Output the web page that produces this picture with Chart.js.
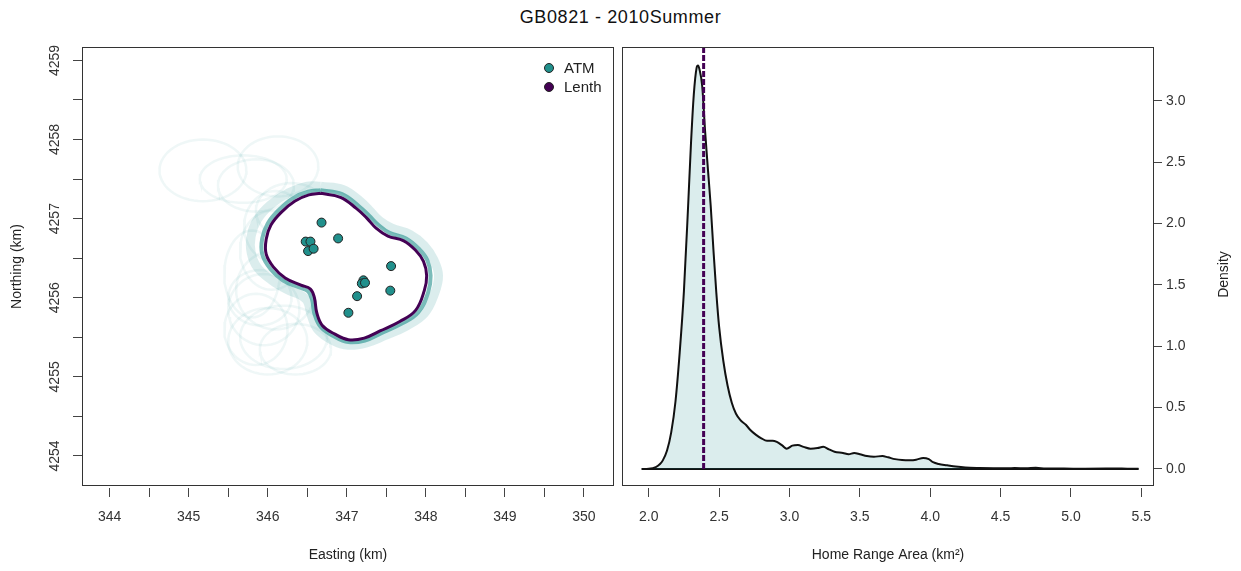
<!DOCTYPE html>
<html>
<head>
<meta charset="utf-8">
<script src="https://cdn.jsdelivr.net/npm/chart.js@4.4.1/dist/chart.umd.min.js"></script>
<style>
  html, body { margin: 0; padding: 0; background: #fff; }
  #wrap { position: relative; width: 1241px; height: 571px; overflow: hidden; }
  #title { position: absolute; left: 0; top: 7px; width: 1241px; text-align: center;
           font: 18px "Liberation Sans", Arial, sans-serif; letter-spacing: 0.6px; color: #111; }
  #c1 { position: absolute; left: 0; top: 0; }
  #c2 { position: absolute; left: 620px; top: 0; }
</style>
</head>
<body>
<div id="wrap">
  <div id="title">GB0821 - 2010Summer</div>
  <canvas id="c1" width="620" height="571"></canvas>
  <canvas id="c2" width="621" height="571"></canvas>
</div>
<script>
// ---------- data: left panel (Easting / Northing, km) ----------
const atmEasting  = [346.68, 346.89, 346.48, 346.54, 346.51, 346.58, 347.56, 347.21, 347.19, 347.23, 347.55, 347.13, 347.02];
const atmNorthing = [4256.95, 4256.75, 4256.71, 4256.71, 4256.59, 4256.62, 4256.40, 4256.22, 4256.18, 4256.19, 4256.09, 4256.02, 4255.81];

// Lenth home-range contour (E, N)
const lenthContour = [
  [346.67,4257.32],[346.92,4257.27],[347.12,4257.13],[347.25,4257.01],[347.37,4256.88],[347.52,4256.78],
  [347.72,4256.72],[347.87,4256.60],[347.97,4256.46],[348.01,4256.28],[347.98,4256.09],[347.87,4255.84],
  [347.67,4255.70],[347.42,4255.58],[347.22,4255.49],[347.02,4255.47],[346.85,4255.54],[346.69,4255.65],
  [346.62,4255.81],[346.59,4256.00],[346.54,4256.11],[346.42,4256.16],[346.22,4256.25],[346.07,4256.39],
  [345.98,4256.55],[345.98,4256.74],[346.04,4256.92],[346.17,4257.08],[346.34,4257.22],[346.52,4257.30],
  [346.67,4257.32]
];
// ATM bootstrap contours: dense band just outside the Lenth contour
const atmContourInner = [
  [346.67,4257.36],[346.94,4257.31],[347.15,4257.16],[347.28,4257.04],[347.40,4256.92],[347.54,4256.82],
  [347.75,4256.75],[347.91,4256.62],[348.02,4256.47],[348.06,4256.28],[348.03,4256.07],[347.90,4255.81],
  [347.69,4255.67],[347.43,4255.55],[347.23,4255.46],[347.02,4255.44],[346.84,4255.51],[346.67,4255.63],
  [346.59,4255.80],[346.56,4255.98],[346.51,4256.08],[346.40,4256.13],[346.19,4256.22],[346.03,4256.37],
  [345.93,4256.55],[345.93,4256.75],[346.00,4256.94],[346.14,4257.11],[346.32,4257.26],[346.51,4257.34],
  [346.67,4257.36]
];
const atmContourOuter = [
  [346.67,4257.41],[346.95,4257.37],[347.17,4257.22],[347.30,4257.09],[347.42,4256.97],[347.57,4256.88],
  [347.80,4256.80],[347.98,4256.66],[348.10,4256.48],[348.16,4256.28],[348.11,4256.05],[347.98,4255.80],
  [347.75,4255.64],[347.48,4255.52],[347.25,4255.43],[347.02,4255.40],[346.82,4255.46],[346.63,4255.60],
  [346.55,4255.78],[346.50,4255.96],[346.42,4256.03],[346.25,4256.10],[346.05,4256.22],[345.87,4256.38],
  [345.79,4256.57],[345.79,4256.78],[345.87,4256.99],[346.04,4257.18],[346.27,4257.33],[346.50,4257.41],
  [346.67,4257.41]
];
// Faint outlying ATM contour lobes: [centerE, centerN, radiusE, radiusN]
const atmLobes = [
  [345.18,4257.61,0.55,0.39],
  [346.13,4257.66,0.51,0.38],
  [345.69,4257.50,0.55,0.30],
  [345.85,4257.42,0.48,0.33],
  [346.10,4256.90,0.40,0.45],
  [346.30,4257.10,0.45,0.35],
  [346.00,4255.45,0.50,0.42],
  [345.85,4255.60,0.40,0.45],
  [346.20,4255.50,0.55,0.40],
  [345.95,4255.85,0.45,0.45],
  [346.10,4256.10,0.50,0.50],
  [345.80,4256.30,0.35,0.55],
  [346.05,4256.60,0.40,0.50],
  [346.35,4255.35,0.45,0.32],
  [345.90,4256.00,0.40,0.35]
];
const eastTicks  = [344,344.5,345,345.5,346,346.5,347,347.5,348,348.5,349,349.5,350];
const northTicks = [4254,4254.5,4255,4255.5,4256,4256.5,4257,4257.5,4258,4258.5,4259];

// ---------- data: right panel (home range area density) ----------
const areaX = [1.95,2.00,2.05,2.08,2.10,2.13,2.16,2.19,2.22,2.25,2.28,2.30,2.32,2.34,2.35,2.36,2.38,2.40,2.42,2.44,
  2.46,2.48,2.50,2.53,2.56,2.59,2.62,2.65,2.69,2.72,2.76,2.80,2.84,2.88,2.91,2.95,2.98,3.02,3.06,3.10,
  3.15,3.20,3.24,3.28,3.32,3.38,3.42,3.46,3.50,3.55,3.60,3.66,3.70,3.75,3.80,3.86,3.90,3.95,3.99,4.02,
  4.06,4.12,4.18,4.25,4.35,4.45,4.55,4.60,4.68,4.75,4.82,4.95,5.10,5.25,5.30,5.40,5.48];
const densityY = [0.000,0.002,0.015,0.040,0.070,0.150,0.300,0.550,0.950,1.450,2.150,2.650,3.050,3.270,3.290,3.260,3.120,2.760,2.450,2.150,
  1.780,1.440,1.160,0.880,0.680,0.540,0.450,0.400,0.360,0.320,0.280,0.250,0.230,0.230,0.220,0.190,0.165,0.190,0.195,0.180,
  0.165,0.170,0.180,0.160,0.140,0.130,0.120,0.130,0.120,0.105,0.100,0.105,0.095,0.080,0.072,0.070,0.075,0.090,0.080,0.055,
  0.040,0.030,0.020,0.012,0.008,0.006,0.005,0.008,0.005,0.009,0.004,0.003,0.002,0.003,0.004,0.002,0.001];
const lenthArea = 2.39;
const areaTicks = [2.0,2.5,3.0,3.5,4.0,4.5,5.0,5.5];
const densTicks = [0.0,0.5,1.0,1.5,2.0,2.5,3.0];

// ---------- colours ----------
const TEAL = '#21908C', PURPLE = '#440154';
const FONT = '"Liberation Sans", Arial, sans-serif';
const TICK_SIZE = 14, TITLE_SIZE = 14;

function pairs(arr) { return arr.map(p => ({x: p[0], y: p[1]})); }
function lobe(c) {
  const pts = [];
  for (let i = 0; i <= 60; i++) {
    const t = 2 * Math.PI * i / 60;
    pts.push({x: c[0] + c[2] * Math.cos(t), y: c[1] + c[3] * Math.sin(t)});
  }
  return pts;
}

const boxPlugin = {
  id: 'box',
  afterDraw(chart) {
    const {ctx, chartArea: a} = chart;
    ctx.save();
    ctx.strokeStyle = '#333';
    ctx.lineWidth = 1;
    ctx.strokeRect(Math.round(a.left) + 0.5, Math.round(a.top) + 0.5,
                   Math.round(a.right - a.left) - 1, Math.round(a.bottom - a.top) - 1);
    ctx.restore();
  }
};

const legendItems = [{label: 'ATM', color: TEAL}, {label: 'Lenth', color: PURPLE}];
const legendPlugin = {
  id: 'cornerLegend',
  afterDraw(chart) {
    const {ctx} = chart;
    ctx.save();
    legendItems.forEach((it, i) => {
      const y = 68 + i * 19;
      ctx.beginPath();
      ctx.arc(549, y, 4.5, 0, 2 * Math.PI);
      ctx.fillStyle = it.color; ctx.fill();
      ctx.lineWidth = 1; ctx.strokeStyle = '#222'; ctx.stroke();
      ctx.fillStyle = '#222';
      ctx.font = '15px ' + FONT;
      ctx.textBaseline = 'middle';
      ctx.textAlign = 'left';
      ctx.fillText(it.label, 564, y + 1);
    });
    ctx.restore();
  }
};

// ---------- left chart ----------
const leftDatasets = [];
leftDatasets.push({
  label: 'ATM', data: atmEasting.map((e, i) => ({x: e, y: atmNorthing[i]})),
  backgroundColor: TEAL, borderColor: '#222', borderWidth: 1, pointRadius: 4.5, showLine: false, order: 1
});
leftDatasets.push({
  label: 'Lenth', data: pairs(lenthContour), showLine: true, borderColor: PURPLE, borderWidth: 3,
  pointRadius: 0, tension: 0.4, fill: false, order: 2
});
leftDatasets.push({
  label: 'atmInner', data: pairs(atmContourInner), showLine: true, borderColor: 'rgba(33,144,140,0.6)', borderWidth: 4,
  pointRadius: 0, tension: 0.4, fill: false, order: 3
});
leftDatasets.push({
  label: 'atmOuter', data: pairs(atmContourOuter), showLine: true, borderColor: 'rgba(33,144,140,0.16)', borderWidth: 9,
  pointRadius: 0, tension: 0.4, fill: false, order: 4
});
leftDatasets.push({
  label: 'interior', data: pairs(lenthContour), showLine: true, borderWidth: 0, borderColor: 'rgba(0,0,0,0)',
  backgroundColor: '#ffffff', pointRadius: 0, tension: 0.4, fill: 'shape', order: 5
});
atmLobes.forEach((c, i) => leftDatasets.push({
  label: 'lobe' + i, data: lobe(c), showLine: true, borderColor: 'rgba(33,144,140,0.07)', borderWidth: 2.5,
  pointRadius: 0, tension: 0, fill: false, order: 10 + i
}));

new Chart(document.getElementById('c1'), {
  type: 'scatter',
  data: {datasets: leftDatasets},
  options: {
    responsive: false, animation: false, events: [],
    layout: {padding: {top: 47, right: 6, left: 0, bottom: 0}},
    plugins: {legend: {display: false}, tooltip: {enabled: false}},
    scales: {
      x: {
        type: 'linear', position: 'bottom', min: 343.65, max: 350.38,
        afterBuildTicks: s => { s.ticks = eastTicks.map(v => ({value: v})); },
        afterFit: s => { s.height = 85; },
        border: {display: false},
        grid: {drawOnChartArea: false, drawTicks: true, tickLength: 11, color: '#444', tickBorderDash: [0, 2, 9, 100]},
        ticks: {autoSkip: false, maxRotation: 0, padding: 12, color: '#333', font: {family: FONT, size: TICK_SIZE},
                callback: v => Number.isInteger(v) ? String(v) : ''},
        title: {display: true, text: 'Easting (km)', color: '#222', font: {family: FONT, size: TITLE_SIZE}, padding: {top: 0, bottom: 7}}
      },
      y: {
        type: 'linear', position: 'left', min: 4253.62, max: 4259.17,
        afterBuildTicks: s => { s.ticks = northTicks.map(v => ({value: v})); },
        afterFit: s => { s.width = 82; },
        border: {display: false},
        grid: {drawOnChartArea: false, drawTicks: true, tickLength: 9, color: '#444'},
        ticks: {autoSkip: false, minRotation: 90, maxRotation: 90, crossAlign: 'center', padding: 2, color: '#333',
                font: {family: FONT, size: TICK_SIZE}, callback: v => Number.isInteger(v) ? String(v) : ''},
        title: {display: true, text: 'Northing (km)', color: '#222', font: {family: FONT, size: TITLE_SIZE}, padding: {top: 9, bottom: 0}}
      }
    }
  },
  plugins: [boxPlugin, legendPlugin]
});

// ---------- right chart ----------
const densityTitlePlugin = {
  id: 'densTitle',
  afterDraw(chart) {
    const {ctx, chartArea: a} = chart;
    ctx.save();
    ctx.translate(604, (a.top + a.bottom) / 2 + 8);
    ctx.rotate(-Math.PI / 2);
    ctx.fillStyle = '#222';
    ctx.font = TITLE_SIZE + 'px ' + FONT;
    ctx.textAlign = 'center';
    ctx.textBaseline = 'middle';
    ctx.fillText('Density', 0, 0);
    ctx.restore();
  }
};

new Chart(document.getElementById('c2'), {
  type: 'scatter',
  data: {
    datasets: [
      {label: 'Lenth area', data: [{x: lenthArea, y: 0}, {x: lenthArea, y: 3.44}], showLine: true,
       borderColor: PURPLE, borderWidth: 3, borderDash: [6, 2], pointRadius: 0, fill: false, order: 1},
      {label: 'density', data: areaX.map((x, i) => ({x: x, y: densityY[i]})), showLine: true,
       borderColor: '#111', borderWidth: 2, backgroundColor: 'rgba(33,144,140,0.16)', fill: 'origin',
       pointRadius: 0, cubicInterpolationMode: 'monotone', order: 2},
      {label: 'baseline', data: [{x: areaX[0], y: 0}, {x: areaX[areaX.length - 1], y: 0}], showLine: true,
       borderColor: '#111', borderWidth: 2, pointRadius: 0, fill: false, order: 3}
    ]
  },
  options: {
    responsive: false, animation: false, events: [],
    layout: {padding: {top: 47, right: 0, left: 2, bottom: 0}},
    plugins: {legend: {display: false}, tooltip: {enabled: false}},
    scales: {
      x: {
        type: 'linear', position: 'bottom', min: 1.81, max: 5.59,
        afterBuildTicks: s => { s.ticks = areaTicks.map(v => ({value: v})); },
        afterFit: s => { s.height = 85; },
        border: {display: false},
        grid: {drawOnChartArea: false, drawTicks: true, tickLength: 11, color: '#444', tickBorderDash: [0, 2, 9, 100]},
        ticks: {autoSkip: false, maxRotation: 0, padding: 12, color: '#333', font: {family: FONT, size: TICK_SIZE},
                callback: v => v.toFixed(1)},
        title: {display: true, text: 'Home Range Area (km²)', color: '#222', font: {family: FONT, size: TITLE_SIZE}, padding: {top: 0, bottom: 7}}
      },
      y: {
        type: 'linear', position: 'right', min: -0.139, max: 3.44,
        afterBuildTicks: s => { s.ticks = densTicks.map(v => ({value: v})); },
        afterFit: s => { s.width = 87; },
        border: {display: false},
        grid: {drawOnChartArea: false, drawTicks: true, tickLength: 8, color: '#444'},
        ticks: {autoSkip: false, padding: 4, color: '#333', font: {family: FONT, size: TICK_SIZE}, callback: v => v.toFixed(1)},
        title: {display: false}
      }
    }
  },
  plugins: [boxPlugin, densityTitlePlugin]
});
</script>
</body>
</html>
